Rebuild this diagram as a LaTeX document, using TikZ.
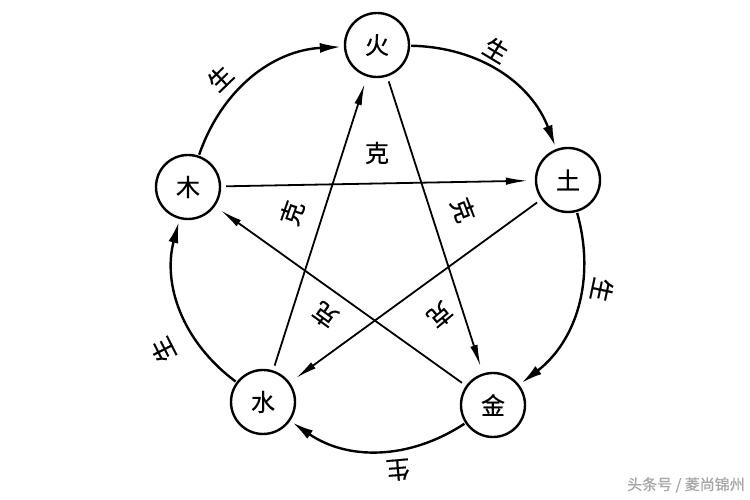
\documentclass[tikz,border=0pt]{standalone}
\usepackage{fontspec}
\setmainfont[FakeBold=0.6,AutoFakeBold=0.6]{Noto Sans CJK SC}
\usetikzlibrary{arrows.meta}
\begin{document}
\begin{tikzpicture}[x=1pt,y=1pt,
  elem/.style={circle,draw,line width=2.4pt,minimum size=64pt,inner sep=0pt,font=\fontsize{24}{26}\selectfont\bfseries},
  lbl/.style={font=\fontsize{24}{26}\selectfont\bfseries,inner sep=0pt},
  ring/.style={line width=2.4pt,-{Latex[length=21pt,width=10pt]},shorten >=3pt,shorten <=1pt},
  star/.style={line width=1.8pt,-{Latex[length=22pt,width=7.5pt]},shorten >=7pt,shorten <=5pt},
  wm/.style={font=\fontsize{15}{17}\selectfont,text=black!35,inner sep=0pt}]
\useasboundingbox (0,0) rectangle (750,500);
\fill[white] (0,0) rectangle (750,500);
\node[elem] (huo) at (377,455) {火};
\node[elem] (tu) at (568,320) {土};
\node[elem] (jin) at (493,95) {金};
\node[elem] (shui) at (263,98) {水};
\node[elem] (mu) at (188,313) {木};
% sheng cycle
\draw[ring] (mu) to[bend left=34] (huo);
\draw[ring] (huo) to[bend left=34] (tu);
\draw[ring] (tu) to[bend left=34] (jin);
\draw[ring] (jin) to[bend left=34] (shui);
\draw[ring] (shui) to[bend left=34] (mu);
% ke cycle
\draw[star] (mu) -- (tu);
\draw[star] (huo) -- (jin);
\draw[star] (tu) -- (shui);
\draw[star] (jin) -- (mu);
\draw[star] (shui) -- (huo);
% labels
\node[lbl,rotate=44] (s1) at (220,422) {生};
\node[lbl,rotate=-31] (s2) at (496,450) {生};
\node[lbl,rotate=-102] (s3) at (602,210) {生};
\node[lbl,rotate=-175] (s4) at (398,30) {生};
\node[lbl,rotate=117] (s5) at (163,150) {生};
\node[lbl] (k1) at (377,347) {克};
\node[lbl,rotate=-69] (k2) at (463,290) {克};
\node[lbl,rotate=71] (k3) at (292,287) {克};
\node[lbl,rotate=144] (k4) at (325,185) {克};
\node[lbl,rotate=-140] (k5) at (440,185) {克};
\node[wm,anchor=east] (w) at (745,15) {头条号 / 菱尚锦州};
\end{tikzpicture}
\end{document}
